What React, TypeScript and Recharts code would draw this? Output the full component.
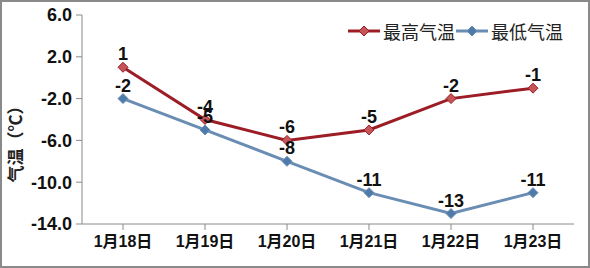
import { LineChart, Line, XAxis, YAxis, LabelList, Label } from "recharts";

const days = ["1月18日", "1月19日", "1月20日", "1月21日", "1月22日", "1月23日"];
const highTemps = [1, -4, -6, -5, -2, -1];
const lowTemps = [-2, -5, -8, -11, -13, -11];
const yTicks = [6, 2, -2, -6, -10, -14];

const data = days.map((day, i) => ({ day, high: highTemps[i], low: lowTemps[i] }));

const RED_LINE = "#9c1d25";
const RED_DOT = "#c4565a";
const BLUE_LINE = "#6a8db4";
const BLUE_DOT = "#4f7bab";
const FONT = "'Liberation Sans', 'Noto Sans CJK SC', Arial, sans-serif";

const diamond = (fill: string, stroke: string) => (props: any) => {
  const { cx, cy, index } = props;
  if (cx == null || cy == null) return <g key={index} />;
  const r = 5;
  return (
    <polygon
      key={index}
      points={`${cx},${cy - r} ${cx + r},${cy} ${cx},${cy + r} ${cx - r},${cy}`}
      fill={fill}
      stroke={stroke}
      strokeWidth={1}
    />
  );
};

const LegendItem = ({ line, dot, text }: { line: string; dot: string; text: string }) => (
  <div style={{ display: "flex", alignItems: "center" }}>
    <svg width={34} height={12}>
      <line x1={1} y1={6} x2={33} y2={6} stroke={line} strokeWidth={3} />
      <polygon points="17,1 22,6 17,11 12,6" fill={dot} stroke={line} strokeWidth={1} />
    </svg>
    <span style={{ fontSize: 18, color: "#222", marginLeft: 2, fontFamily: FONT }}>{text}</span>
  </div>
);

const labelStyle = { fontSize: 18, fontWeight: 700, fill: "#111", fontFamily: FONT };
const xTickStyle = { fontSize: 16, fontWeight: 700, fill: "#111", fontFamily: FONT };
const yTickStyle = { fontSize: 18, fontWeight: 700, fill: "#111", fontFamily: FONT };

export default function App() {
  return (
    <div
      style={{
        position: "absolute",
        left: 0,
        top: 0,
        width: 590,
        height: 268,
        background: "#fff",
        border: "2px solid #8a8a8a",
        boxSizing: "border-box",
      }}
    >
      <div style={{ position: "absolute", left: -2, top: -2 }}>
        <LineChart width={590} height={268} data={data} margin={{ top: 15, right: 16, bottom: 0, left: 0 }}>
          <XAxis
            dataKey="day"
            scale="band"
            axisLine={{ stroke: "#8a8a8a" }}
            tickLine={{ stroke: "#8a8a8a" }}
            tick={xTickStyle}
            tickMargin={6}
            height={44}
            interval={0}
          />
          <XAxis xAxisId="top" dataKey="day" scale="band" orientation="top" height={0} tick={false} tickLine={false} axisLine={{ stroke: "#b0b0b0" }} />
          <YAxis
            domain={[-14, 6]}
            ticks={yTicks}
            interval={0}
            width={82}
            axisLine={{ stroke: "#8a8a8a" }}
            tickLine={{ stroke: "#8a8a8a" }}
            tickMargin={4}
            tickFormatter={(v: number) => v.toFixed(1)}
            tick={yTickStyle}
          >
            <Label
              content={() => (
                <text
                  x={22}
                  y={140}
                  transform="rotate(-90 22 140)"
                  textAnchor="middle"
                  style={{ fontSize: 17, fontWeight: 700, fill: "#222", fontFamily: FONT }}
                >
                  气温（℃）
                </text>
              )}
            />
          </YAxis>
          <YAxis yAxisId="right" orientation="right" width={0} tick={false} tickLine={false} axisLine={{ stroke: "#b0b0b0" }} />
          <Line
            dataKey="high"
            stroke={RED_LINE}
            strokeWidth={3}
            dot={diamond(RED_DOT, RED_LINE)}
            activeDot={false}
            isAnimationActive={false}
          >
            <LabelList dataKey="high" position="top" offset={7} style={labelStyle} />
          </Line>
          <Line
            dataKey="low"
            stroke={BLUE_LINE}
            strokeWidth={3}
            dot={diamond(BLUE_DOT, BLUE_LINE)}
            activeDot={false}
            isAnimationActive={false}
          >
            <LabelList dataKey="low" position="top" offset={7} style={labelStyle} />
          </Line>
        </LineChart>
      </div>
      <div style={{ position: "absolute", left: 345, top: 16, display: "flex", alignItems: "center" }}>
        <LegendItem line={RED_LINE} dot={RED_DOT} text="最高气温" />
        <LegendItem line={BLUE_LINE} dot={BLUE_DOT} text="最低气温" />
      </div>
    </div>
  );
}
